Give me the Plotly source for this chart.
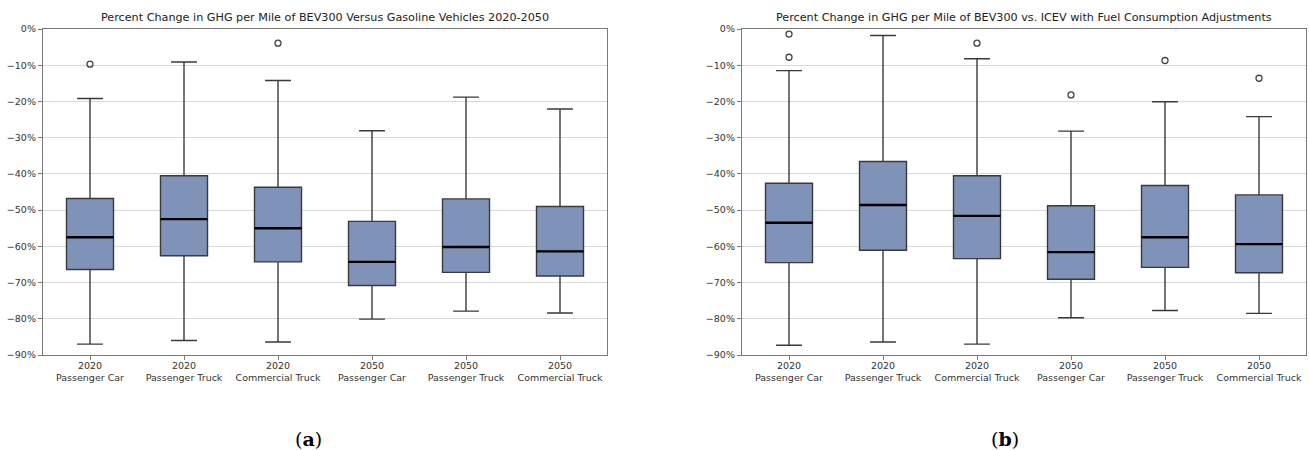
import plotly.graph_objects as go

# ---------------- data ----------------
categories = ["2020<br>Passenger Car", "2020<br>Passenger Truck", "2020<br>Commercial Truck",
              "2050<br>Passenger Car", "2050<br>Passenger Truck", "2050<br>Commercial Truck"]

# Panel (a): BEV300 versus gasoline vehicles
a_lower = [-87.0, -86.0, -86.4, -80.1, -77.9, -78.4]
a_q1 = [-66.4, -62.6, -64.3, -70.8, -67.2, -68.2]
a_median = [-57.5, -52.5, -55.0, -64.3, -60.2, -61.4]
a_q3 = [-46.8, -40.5, -43.7, -53.1, -46.9, -49.0]
a_upper = [-19.2, -9.1, -14.2, -28.1, -18.8, -22.1]
a_outlier_idx = [0, 2]
a_outlier_val = [-9.7, -3.9]

# Panel (b): BEV300 vs. ICEV with fuel consumption adjustments
b_lower = [-87.3, -86.4, -87.0, -79.7, -77.7, -78.5]
b_q1 = [-64.5, -61.1, -63.4, -69.1, -65.8, -67.3]
b_median = [-53.5, -48.6, -51.6, -61.6, -57.5, -59.4]
b_q3 = [-42.6, -36.6, -40.5, -48.8, -43.2, -45.8]
b_upper = [-11.5, -1.8, -8.2, -28.2, -20.1, -24.2]
b_outlier_idx = [0, 0, 2, 3, 4, 5]
b_outlier_val = [-1.4, -7.8, -3.9, -18.2, -8.7, -13.6]

y_tickvals = [0, -10, -20, -30, -40, -50, -60, -70, -80, -90]
y_ticktext = ["0%", "−10%", "−20%", "−30%", "−40%", "−50%", "−60%", "−70%", "−80%", "−90%"]

titles = ["Percent Change in GHG per Mile of BEV300 Versus Gasoline Vehicles 2020-2050",
          "Percent Change in GHG per Mile of BEV300 vs. ICEV with Fuel Consumption Adjustments"]
captions = ["(<b>a</b>)", "(<b>b</b>)"]

# ---------------- styling ----------------
W, H = 1309, 450
BOX_FILL = "#7f93b9"
BOX_LINE = "#3a3a3a"
AX_LINE = "#7a7a7a"
FONT = "DejaVu Sans"
BOX_W = 0.5

positions = list(range(len(categories)))

fig = go.Figure()

panels = [
    dict(lower=a_lower, q1=a_q1, med=a_median, q3=a_q3, upper=a_upper,
         oi=a_outlier_idx, ov=a_outlier_val, xa="x", ya="y"),
    dict(lower=b_lower, q1=b_q1, med=b_median, q3=b_q3, upper=b_upper,
         oi=b_outlier_idx, ov=b_outlier_val, xa="x2", ya="y2"),
]

for p in panels:
    fig.add_trace(go.Box(
        x=positions, q1=p["q1"], median=p["med"], q3=p["q3"],
        lowerfence=p["lower"], upperfence=p["upper"],
        fillcolor=BOX_FILL, line=dict(color=BOX_LINE, width=1.4),
        width=BOX_W, whiskerwidth=0.55, boxpoints=False,
        xaxis=p["xa"], yaxis=p["ya"], showlegend=False, hoverinfo="skip",
    ))
    mx, my = [], []
    for x, m in zip(positions, p["med"]):
        mx += [x - BOX_W / 2, x + BOX_W / 2, None]
        my += [m, m, None]
    fig.add_trace(go.Scatter(
        x=mx, y=my, mode="lines", line=dict(color="black", width=2.4),
        xaxis=p["xa"], yaxis=p["ya"], showlegend=False, hoverinfo="skip",
    ))
    fig.add_trace(go.Scatter(
        x=[positions[i] for i in p["oi"]], y=p["ov"], mode="markers",
        marker=dict(symbol="circle-open", size=6, color="#444444", line=dict(width=1.3)),
        xaxis=p["xa"], yaxis=p["ya"], showlegend=False, hoverinfo="skip",
    ))

ydom = [1 - 355 / H, 1 - 29 / H]
xdoms = [[43 / W, 607 / W], [742 / W, 1306 / W]]

common_x = dict(range=[-0.5, 5.5], tickmode="array", tickvals=positions, ticktext=categories,
                showgrid=False, zeroline=False, showline=True, mirror=True, automargin=False,
                linecolor=AX_LINE, linewidth=1.3, ticks="outside", ticklen=4,
                ticklabelstandoff=-3,
                tickcolor=AX_LINE, tickfont=dict(family=FONT, size=9.5, color="#333333"))
common_y = dict(range=[-90, 0], tickmode="array", tickvals=y_tickvals, ticktext=y_ticktext,
                showgrid=True, gridcolor="#d9d9d9", gridwidth=1, zeroline=False, automargin=False,
                showline=True, mirror=True, linecolor=AX_LINE, linewidth=1.3,
                ticks="outside", ticklen=4, tickcolor=AX_LINE,
                tickfont=dict(family=FONT, size=9.5, color="#333333"))

fig.update_layout(
    width=W, height=H, margin=dict(l=0, r=0, t=0, b=0, pad=0), autosize=False,
    paper_bgcolor="white", plot_bgcolor="white",
    xaxis=dict(domain=xdoms[0], anchor="y", **common_x),
    yaxis=dict(domain=ydom, anchor="x", **common_y),
    xaxis2=dict(domain=xdoms[1], anchor="y2", **common_x),
    yaxis2=dict(domain=ydom, anchor="x2", **common_y),
)

for i, t in enumerate(titles):
    fig.add_annotation(text=t, xref="paper", yref="paper",
                       x=sum(xdoms[i]) / 2, y=1 - 17 / H, xanchor="center", yanchor="middle",
                       showarrow=False, font=dict(family=FONT, size=11.2, color="#222222"))

caption_x = [308.5, 1005]
for cx, c in zip(caption_x, captions):
    fig.add_annotation(text=c, xref="paper", yref="paper",
                       x=cx / W, y=1 - 439 / H, xanchor="center", yanchor="middle",
                       showarrow=False, font=dict(family="DejaVu Serif", size=19, color="black"))

fig.write_html("out.html")
